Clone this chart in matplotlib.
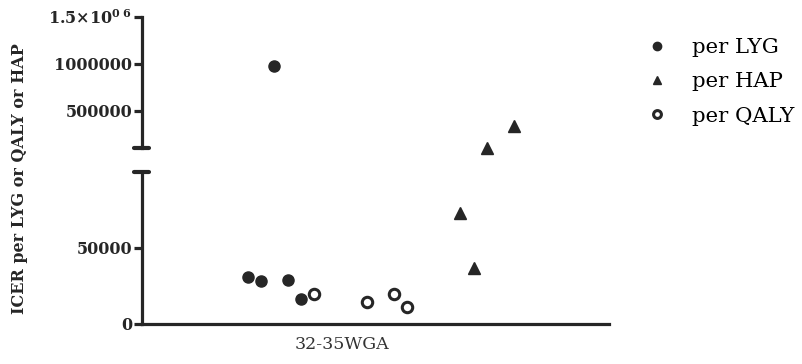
import matplotlib
matplotlib.use("Agg")
import matplotlib.pyplot as plt
from matplotlib.lines import Line2D

# ICER values, one group (32-35WGA), jittered positions along x
lyg_x = [2.27, 2.55, 2.83, 3.13, 3.40]
lyg_y = [31000, 28300, 980000, 29000, 16400]
hap_x = [6.81, 7.11, 7.39, 7.97]
hap_y = [73000, 36800, 105000, 335000]
qaly_x = [3.68, 4.82, 5.40, 5.67]
qaly_y = [19700, 14500, 19700, 11200]
group_label = "32-35WGA"
group_pos = 4.28

break_at = 100000
low_ticks = [0, 50000]
low_labels = ["0", "50000"]
high_ticks = [500000, 1000000, 1500000]
high_labels = ["500000", "1000000", r"1.5$\times$10$^{0\ 6}$"]

ink = "#262626"
plt.rcParams["font.family"] = "DejaVu Serif"
plt.rcParams["mathtext.fontset"] = "dejavuserif"
plt.rcParams["mathtext.default"] = "bf"

fig = plt.figure(figsize=(8.02, 3.64), dpi=100)
left, width = 0.177, 0.5823
ax_hi = fig.add_axes([left, 0.5934, width, 0.3599])
ax_lo = fig.add_axes([left, 0.1099, width, 0.4176])

series = [
    (lyg_x, lyg_y, dict(marker="o", color=ink, ms=8, ls="none"), "per LYG"),
    (hap_x, hap_y, dict(marker="^", color=ink, ms=8, ls="none"), "per HAP"),
    (qaly_x, qaly_y, dict(marker="o", mfc="white", mec=ink, mew=2.2, ms=7.5, ls="none"), "per QALY"),
]

for xs, ys, style, _ in series:
    hi = [(x, y) for x, y in zip(xs, ys) if y >= break_at]
    lo = [(x, y) for x, y in zip(xs, ys) if y < break_at]
    if hi:
        ax_hi.plot(*zip(*hi), clip_on=False, **style)
    if lo:
        ax_lo.plot(*zip(*lo), clip_on=False, **style)

for ax in (ax_hi, ax_lo):
    ax.set_xlim(0, 10)
    for s in ("top", "right"):
        ax.spines[s].set_visible(False)
    ax.spines["left"].set_linewidth(2.3)
    ax.spines["left"].set_color(ink)
    ax.tick_params(axis="y", length=6, width=2.3, color=ink, pad=1)
    ax.patch.set_alpha(0)

ax_hi.set_ylim(break_at, 1500000)
ax_hi.set_yticks(high_ticks)
ax_hi.set_yticklabels(high_labels, fontweight="bold", fontsize=11.5, color=ink)
ax_hi.spines["bottom"].set_visible(False)
ax_hi.set_xticks([])

ax_lo.set_ylim(0, break_at)
ax_lo.set_yticks(low_ticks)
ax_lo.set_yticklabels(low_labels, fontweight="bold", fontsize=11.5, color=ink)
ax_lo.spines["bottom"].set_linewidth(2.3)
ax_lo.spines["bottom"].set_color(ink)
ax_lo.set_xticks([group_pos])
ax_lo.set_xticklabels([group_label], fontsize=12.5, color="#333333")
ax_lo.tick_params(axis="x", length=0, pad=9)

# break caps on the y axis
ax_hi.plot([-0.016, 0.016], [0, 0], transform=ax_hi.transAxes, color=ink,
           lw=3, solid_capstyle="round", clip_on=False)
ax_lo.plot([-0.016, 0.016], [1, 1], transform=ax_lo.transAxes, color=ink,
           lw=3, solid_capstyle="round", clip_on=False)

fig.text(0.024, 0.508, "ICER per LYG or QALY or HAP", rotation=90, ha="center",
         va="center", fontweight="bold", fontsize=11.5, color=ink)

handles = [Line2D([], [], **style) for _, _, style, _ in series]
labels = [lab for _, _, _, lab in series]
fig.legend(handles, labels, loc="upper left", bbox_to_anchor=(0.7955, 0.918),
           frameon=False, fontsize=15.3, handlelength=1.0, handletextpad=1.15,
           labelspacing=0.71, borderaxespad=0, markerscale=0.75)

fig.savefig("out.png", dpi=100)
